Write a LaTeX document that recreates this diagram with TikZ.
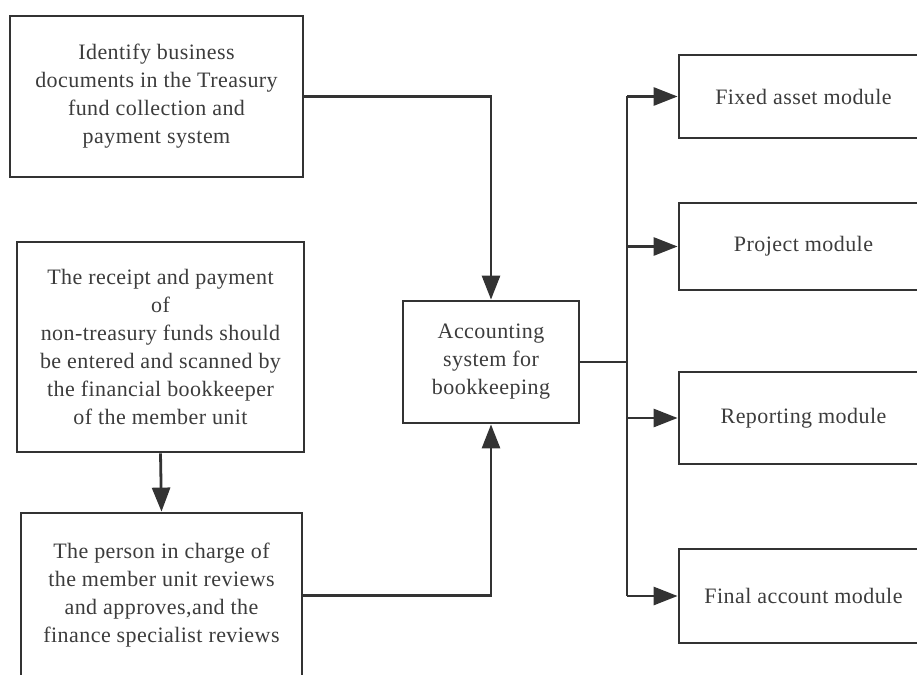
\documentclass[tikz,border=0pt]{standalone}
\usepackage{fontspec}
\setmainfont[LetterSpace=2]{Liberation Serif}
\usetikzlibrary{arrows.meta}
\definecolor{ln}{HTML}{333333}
\definecolor{tx}{HTML}{3C3C3C}
\tikzset{
  box/.style={draw=ln, line width=2.8pt, fill=white, align=center, text=tx,
    font=\fontsize{22}{28}\selectfont, inner sep=0pt},
  conn/.style={draw=ln, line width=2.8pt},
  arr/.style={conn, -{Triangle[length=24pt,width=18pt]}}
}
\begin{document}
\begin{tikzpicture}[x=1pt,y=-1pt]
\useasboundingbox (0,0) rectangle (917,674);
\clip (0,0) rectangle (917,674);
\fill[white] (0,0) rectangle (917,674);
\node[box, minimum width=293pt, minimum height=161pt] (b1) at (156.5,96.5)
  {Identify business\\documents in the Treasury\\fund collection and\\payment system};
\node[box, minimum width=287pt, minimum height=210pt] (b2) at (160.5,347)
  {The receipt and payment\\of\\non-treasury funds should\\be entered and scanned by\\the financial bookkeeper\\of the member unit};
\node[box, minimum width=281pt, minimum height=165pt] (b3) at (161.5,595.5)
  {The person in charge of\\the member unit reviews\\and approves,and the\\finance specialist reviews};
\node[box, minimum width=176pt, minimum height=122pt] (acc) at (491,362)
  {Accounting\\system for\\bookkeeping};
\node[box, minimum width=249pt, minimum height=83pt] (m1) at (803.5,96.5) {Fixed asset module};
\node[box, minimum width=249pt, minimum height=87pt] (m2) at (803.5,246.5) {Project module};
\node[box, minimum width=249pt, minimum height=92pt] (m3) at (803.5,418) {Reporting module};
\node[box, minimum width=249pt, minimum height=94pt] (m4) at (803.5,596) {Final account module};
\coordinate (bus) at (627,362);
\draw[arr] (b1.east) -| (acc.north);
\draw[arr] (b3.east) -| (acc.south);
\draw[arr] (b2.south) -- (b3.north);
\draw[conn] (acc.east) -- (bus);
\draw[conn] (bus |- m1.west) -- (bus |- m4.west);
\draw[arr] (bus |- m1.west) -- (m1.west);
\draw[arr] (bus |- m2.west) -- (m2.west);
\draw[arr] (bus |- m3.west) -- (m3.west);
\draw[arr] (bus |- m4.west) -- (m4.west);
\end{tikzpicture}
\end{document}
